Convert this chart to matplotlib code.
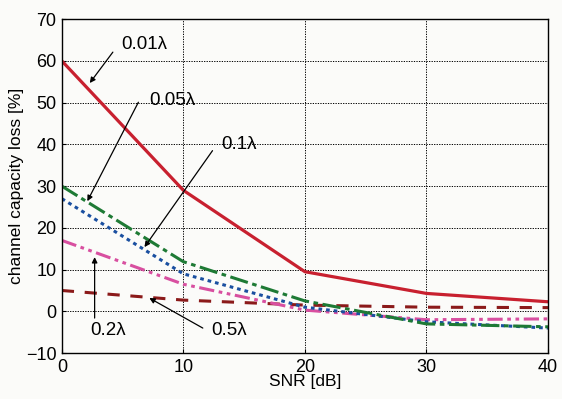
import matplotlib
matplotlib.use("Agg")
import matplotlib.pyplot as plt

plt.rcParams["font.family"] = ["Liberation Sans", "DejaVu Sans"]

snr_db = [0, 10, 20, 30, 40]
loss_001 = [60, 29, 9.5, 4.3, 2.3]
loss_005 = [30, 11.9, 2.5, -3.0, -3.7]
loss_01 = [27, 9.0, 1.0, -2.5, -4.0]
loss_02 = [17, 6.5, 0.3, -2.0, -1.8]
loss_05 = [5, 2.7, 1.5, 1.0, 0.9]

x_ticks = [0, 10, 20, 30, 40]
y_ticks = [-10, 0, 10, 20, 30, 40, 50, 60, 70]

# label text, text centre, arrow tail, arrow tip (data coords)
labels = [
    ("0.01λ", (6.75, 64.0), (4.2, 62.1), (2.3, 54.7)),
    ("0.05λ", (9.1, 50.5), (6.3, 50.1), (2.1, 26.4)),
    ("0.1λ", (14.6, 39.9), (12.4, 38.5), (6.8, 15.4)),
    ("0.2λ", (3.8, -4.5), (2.7, -1.6), (2.7, 13.0)),
    ("0.5λ", (13.8, -4.5), (11.6, -4.0), (7.2, 3.2)),
]

fig = plt.figure(figsize=(5.62, 3.99), dpi=100)
fig.patch.set_facecolor("#fbfbf9")
ax = fig.add_axes([0.110, 0.115, 0.865, 0.837])
ax.set_facecolor("#fbfbf9")

ax.plot(snr_db, loss_05, color="#8b1a1a", lw=2.2, dashes=(4, 3.5))
ax.plot(snr_db, loss_02, color="#d84fa0", lw=2.2, dashes=(5, 1.5, 1.2, 1.5, 1.2, 1.5))
ax.plot(snr_db, loss_01, color="#1a4fa0", lw=2.2, dashes=(1.2, 1.3))
ax.plot(snr_db, loss_005, color="#1e7a35", lw=2.2, dashes=(6, 1.5, 1.5, 1.5))
ax.plot(snr_db, loss_001, color="#c8202f", lw=2.3)

ax.set_xlim(0, 40)
ax.set_ylim(-10, 70)
ax.set_xticks(x_ticks)
ax.set_yticks(y_ticks)
ax.tick_params(labelsize=13, direction="in", length=3, width=0.8, pad=4)
ax.grid(True, color="black", linestyle=(0, (1.3, 1.3)), linewidth=0.7)
ax.set_xlabel("SNR [dB]", fontsize=12.5, labelpad=-1)
ax.set_ylabel("channel capacity loss [%]", fontsize=12.5, labelpad=1)
for sp in ax.spines.values():
    sp.set_linewidth(1.0)

arrow = dict(arrowstyle="-|>", color="black", lw=0.9, mutation_scale=8, shrinkA=0, shrinkB=0)
for text, pos, tail, tip in labels:
    ax.annotate("", xy=tip, xytext=tail, arrowprops=arrow)
    ax.text(pos[0], pos[1], text, fontsize=13.5, ha="center", va="center")

fig.savefig("out.png", dpi=100, facecolor=fig.get_facecolor())
